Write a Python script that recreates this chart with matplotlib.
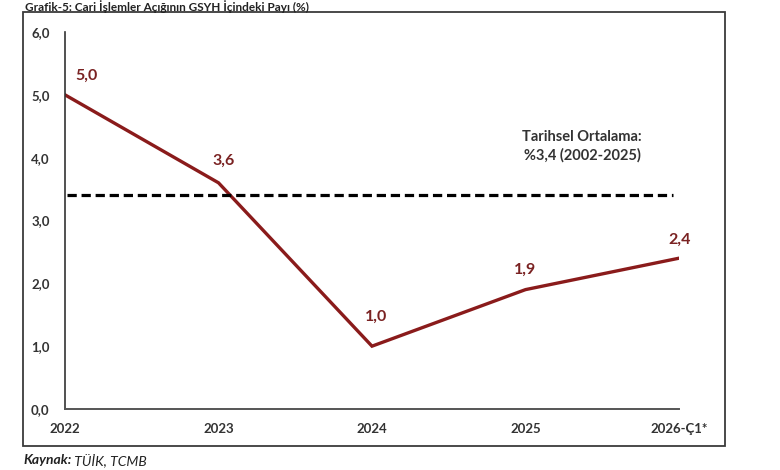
import matplotlib
matplotlib.use("Agg")
import matplotlib.pyplot as plt
from matplotlib.patches import Rectangle

plt.rcParams['font.family'] = ['Lato', 'DejaVu Sans']

categories = ["2022", "2023", "2024", "2025", "2026-Ç1*"]
values = [5.0, 3.6, 1.0, 1.9, 2.4]
value_labels = ["5,0", "3,6", "1,0", "1,9", "2,4"]
average = 3.4
avg_text = "Tarihsel Ortalama:\n%3,4 (2002-2025)"
y_ticks = [0, 1, 2, 3, 4, 5, 6]
y_tick_labels = ["0,0", "1,0", "2,0", "3,0", "4,0", "5,0", "6,0"]
title = "Grafik-5: Cari İşlemler Açığının GSYH İçindeki Payı (%)"
source_bold = "Kaynak:"
source_rest = " TÜİK, TCMB"

label_offsets = [(21, 19), (5, 22), (4, 29), (0, 20), (1, 18)]

W, H = 780, 470
fig = plt.figure(figsize=(W / 100, H / 100), dpi=100)
fig.patch.set_facecolor("white")

# outer frame
fig.patches.append(Rectangle((23 / W, 1 - 446 / H), (725 - 23) / W, (446 - 12) / H,
                             transform=fig.transFigure, fill=False,
                             edgecolor="#3a3a3a", linewidth=1.3))

ax = fig.add_axes([65 / W, 1 - 409 / H, (679 - 65) / W, (409 - 32) / H])
x = list(range(len(categories)))
line_color = "#8A1B1B"
ax.plot(x, values, color=line_color, linewidth=2.4, solid_joinstyle="miter")
ax.axhline(average, xmin=0.003, xmax=0.99, color="black", linewidth=2.3,
           linestyle=(0, (2.9, 1.5)))

for xi, v, lab, off in zip(x, values, value_labels, label_offsets):
    ax.annotate(lab, (xi, v), xytext=off, textcoords="offset pixels",
                ha="center", va="center", fontsize=11.5, fontweight="bold",
                color="#7A2222")

ax.annotate(avg_text, (3.37, average), xytext=(0, 49), textcoords="offset pixels",
            ha="center", va="center", fontsize=10.5, fontweight="bold",
            color="#333333", linespacing=1.35)

ax.set_xlim(0, len(categories) - 1)
ax.set_ylim(0, 6)
ax.set_yticks(y_ticks)
ax.set_yticklabels(y_tick_labels)
ax.set_xticks(x)
ax.set_xticklabels(categories)
ax.tick_params(axis="both", length=0, labelsize=9.5, labelcolor="#333333")
ax.tick_params(axis="x", pad=10)
ax.tick_params(axis="y", pad=11)
for t in ax.get_xticklabels() + ax.get_yticklabels():
    t.set_fontweight("bold")
for s in ["top", "right"]:
    ax.spines[s].set_visible(False)
ax.spines["left"].set_color("#333333")
ax.spines["left"].set_linewidth(1.2)
ax.spines["bottom"].set_color("#555555")
ax.spines["bottom"].set_linewidth(1.4)
ax.set_facecolor("white")

fig.text(25 / W, 1 - 10.8 / H, title, fontsize=8.5, fontweight="bold",
         color="#222222", ha="left", va="baseline")

t1 = fig.text(23 / W, 1 - 460 / H, source_bold, fontsize=10, fontweight="bold",
              fontstyle="italic", color="#222222", ha="left", va="center")
fig.canvas.draw()
bb = t1.get_window_extent()
fig.text(bb.x1 / W, 1 - 460 / H, source_rest, fontsize=10, fontstyle="italic",
         color="#222222", ha="left", va="center")

fig.savefig("out.png", dpi=100, facecolor="white")
